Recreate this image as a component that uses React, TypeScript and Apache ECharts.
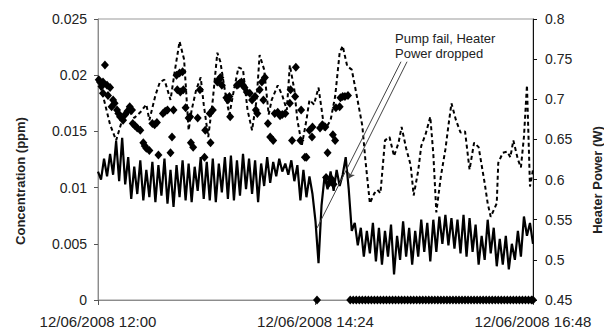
import React, { useEffect, useRef } from 'react';
import * as echarts from 'echarts';

// ---- Data (time in minutes after 12/06/2008 12:00) ----
const xTickMinutes = [0, 144, 288];
const xTickLabels = ['12/06/2008 12:00', '12/06/2008 14:24', '12/06/2008 16:48'];

// Heater power (W), sampled every 2 minutes
const heaterStepMin = 2;
const heaterPower = [
  0.610, 0.600, 0.626, 0.604, 0.632, 0.606, 0.648, 0.598, 0.652, 0.594,
  0.628, 0.576, 0.616, 0.582, 0.624, 0.574, 0.612, 0.578, 0.622, 0.572,
  0.618, 0.580, 0.626, 0.570, 0.612, 0.566, 0.618, 0.578, 0.624, 0.574,
  0.620, 0.572, 0.616, 0.586, 0.628, 0.576, 0.622, 0.574, 0.626, 0.572,
  0.620, 0.584, 0.628, 0.576, 0.630, 0.574, 0.624, 0.580, 0.632, 0.588,
  0.626, 0.582, 0.624, 0.572, 0.620, 0.592, 0.628, 0.596, 0.622, 0.604,
  0.626, 0.610, 0.620, 0.606, 0.624, 0.598, 0.618, 0.574, 0.612, 0.578,
  0.604, 0.582, 0.548, 0.496, 0.568, 0.604, 0.588, 0.610, 0.586, 0.612,
  0.592, 0.606, 0.628, 0.588, 0.536, 0.546, 0.518, 0.540, 0.504, 0.536,
  0.508, 0.546, 0.498, 0.540, 0.494, 0.536, 0.504, 0.544, 0.482, 0.530,
  0.500, 0.548, 0.504, 0.540, 0.494, 0.536, 0.504, 0.550, 0.510, 0.546,
  0.498, 0.550, 0.510, 0.554, 0.520, 0.556, 0.518, 0.552, 0.514, 0.550,
  0.508, 0.556, 0.504, 0.552, 0.510, 0.544, 0.494, 0.530, 0.500, 0.550,
  0.508, 0.540, 0.492, 0.526, 0.494, 0.530, 0.488, 0.520, 0.500, 0.536,
  0.504, 0.554, 0.530, 0.546, 0.520,
];

// Concentration (ppm), dashed trace
const dashedConc: [number, number][] = [
  [0, 0.0196], [4, 0.0178], [8, 0.0156], [12, 0.0142], [16, 0.016], [20, 0.0169],
  [24, 0.0162], [28, 0.0167], [32, 0.0174], [34, 0.016], [38, 0.0182], [41, 0.0194],
  [44, 0.0196], [48, 0.0178], [51, 0.0205], [54, 0.023], [57, 0.0214], [60, 0.0151],
  [62, 0.0169], [65, 0.0187], [68, 0.0198], [70, 0.0174], [73, 0.0145], [76, 0.0178],
  [79, 0.022], [81, 0.0212], [85, 0.0178], [87, 0.0165], [90, 0.0187], [93, 0.0207],
  [96, 0.0205], [99, 0.0169], [102, 0.0151], [105, 0.0178], [107, 0.0218], [110, 0.0205],
  [113, 0.0165], [115, 0.0178], [119, 0.0191], [122, 0.0182], [125, 0.0169], [127, 0.0209],
  [130, 0.0187], [132, 0.016], [135, 0.0138], [138, 0.016], [140, 0.0178], [143, 0.0174],
  [146, 0.0189], [150, 0.0151], [154, 0.016], [157, 0.0181], [160, 0.022], [162, 0.0226],
  [165, 0.0208], [168, 0.0205], [171, 0.0184], [175, 0.0155], [177, 0.0125], [180, 0.0086],
  [183, 0.0095], [185, 0.0098], [187, 0.0095], [190, 0.0142], [193, 0.0145], [196, 0.0128],
  [199, 0.014], [201, 0.0154], [204, 0.0135], [207, 0.012], [209, 0.0093], [212, 0.0115],
  [214, 0.0137], [217, 0.0148], [220, 0.0163], [222, 0.013], [224, 0.0078], [227, 0.011],
  [230, 0.0134], [232, 0.0155], [234, 0.0175], [237, 0.016], [240, 0.0149], [243, 0.015],
  [246, 0.0116], [249, 0.014], [252, 0.0136], [256, 0.0104], [258, 0.0086], [260, 0.0074],
  [264, 0.0086], [265, 0.0122], [268, 0.0131], [271, 0.0132], [273, 0.0127], [275, 0.0142],
  [278, 0.0125], [280, 0.0118], [282, 0.0145], [284, 0.0191], [286, 0.0101], [288, 0.0116],
];

// Concentration (ppm), diamond samples
const diamondConc: [number, number][] = [
  [0.5, 0.0196], [1.3, 0.0194], [2.3, 0.019], [3.3, 0.0194], [3.3, 0.0184], [4.6, 0.0209],
  [6, 0.0191], [6.6, 0.0182], [8, 0.0189], [9, 0.0172], [10, 0.0178], [11, 0.0175],
  [12.6, 0.0169], [13.5, 0.0166], [14.6, 0.0163], [16.6, 0.016], [18, 0.0165], [19.5, 0.0168],
  [21, 0.0172], [22.5, 0.0169], [23, 0.0157], [24.5, 0.0155], [26, 0.0153], [28, 0.0151],
  [30, 0.014], [31, 0.0137], [32, 0.0135], [34, 0.0133], [36, 0.0157], [37.5, 0.0156],
  [39, 0.0158], [40, 0.0129], [43, 0.0166], [44.5, 0.0168], [46, 0.0169], [48, 0.0131],
  [49, 0.0145], [50, 0.0169], [52, 0.02], [52.5, 0.0187], [54, 0.0202], [54.5, 0.0185],
  [56, 0.0203], [56.5, 0.0187], [58, 0.0171], [60, 0.0162], [61, 0.0163], [61.5, 0.014],
  [63, 0.0136], [66, 0.0162], [67.5, 0.0187], [70.5, 0.0127], [71, 0.0151], [74, 0.0166],
  [74.5, 0.014], [76, 0.0169], [79, 0.0194], [80, 0.0196], [81, 0.0198], [82, 0.0191],
  [85, 0.018], [86, 0.0178], [87, 0.0181], [87.5, 0.0163], [92, 0.0191], [93, 0.0192],
  [94, 0.0193], [95, 0.0194], [96, 0.0191], [97, 0.0189], [98.5, 0.0185], [100.5, 0.0184],
  [102, 0.0178], [104, 0.0181], [104.5, 0.0169], [105.5, 0.0166], [107, 0.0187], [108.5, 0.0194],
  [109.5, 0.0178], [110.5, 0.0198], [112.5, 0.0157], [114, 0.0145], [116, 0.0142], [117, 0.0166],
  [119, 0.0167], [120.5, 0.0164], [122, 0.0165], [124, 0.0166], [127, 0.0175], [127.5, 0.0187],
  [128.5, 0.0142], [130.5, 0.0181], [131, 0.0207], [134, 0.0142], [134.5, 0.0169], [137, 0.0127],
  [138, 0.0127], [140, 0.0151], [141.7, 0.0145], [142, 0.0154], [147, 0.0153], [148.5, 0.0156],
  [150.5, 0.0154], [151, 0.0109], [152, 0.0131], [153, 0.0104], [155, 0.0107], [155.5, 0.0147],
  [156, 0.0103], [157, 0.0142], [157.5, 0.0171], [160, 0.0172], [160.5, 0.018], [162, 0.0181],
  [163.5, 0.0181], [165.5, 0.0182],
];

// Times at which the diamond concentration reads 0 (pump failed)
const zeroTimes = [
  145, 167, 169, 171, 173, 175, 177, 179, 181, 183, 185, 187, 189, 191, 193, 195, 197, 199,
  201, 203, 205, 207, 209, 211, 213, 215, 217, 219, 221, 223, 225, 227, 229, 231, 233, 235,
  237, 239, 241, 243, 245, 247, 249, 251, 253, 255, 257, 259, 261, 263, 265, 267, 269, 271,
  273, 275, 277, 279, 281, 283, 285, 287, 288,
];

const annotationText = 'Pump fail, Heater\nPower dropped';
const leaderA: [number, number][] = [[200.6, 0.0212], [145, 0.0064]];
const leaderB: [number, number][] = [[204.6, 0.0212], [166, 0.0108]];

const FONT = '"Liberation Sans", Arial, sans-serif';

export default function App() {
  const ref = useRef<HTMLDivElement>(null);

  useEffect(() => {
    if (!ref.current) return;
    const chart = echarts.init(ref.current, null, { renderer: 'svg' });

    const heaterData = heaterPower.map((v, i) => [i * heaterStepMin, v]);
    const diamondData = [
      ...diamondConc,
      ...zeroTimes.map((t) => [t, 0]),
    ];

    chart.setOption({
      animation: false,
      backgroundColor: '#fff',
      grid: {
        left: 98,
        right: 71,
        top: 19,
        bottom: 32,
        show: true,
        borderColor: '#999',
        borderWidth: 1,
      },
      xAxis: {
        type: 'value',
        min: 0,
        max: 288,
        interval: 144,
        splitLine: { show: false },
        axisLine: { show: true, lineStyle: { color: '#8c8c8c', width: 1 } },
        axisTick: { show: true, length: 5, lineStyle: { color: '#555' } },
        axisLabel: {
          margin: 14,
          fontSize: 15,
          fontFamily: FONT,
          color: '#222',
          formatter: (v: number) => {
            const i = xTickMinutes.indexOf(Math.round(v));
            return i >= 0 ? xTickLabels[i] : '';
          },
        },
      },
      yAxis: [
        {
          type: 'value',
          position: 'left',
          min: 0,
          max: 0.025,
          interval: 0.005,
          splitLine: { show: false },
          axisLine: { show: true, lineStyle: { color: '#8c8c8c', width: 1 } },
          axisTick: { show: true, length: 4, lineStyle: { color: '#555' } },
          axisLabel: {
            margin: 11,
            fontSize: 14,
            fontFamily: FONT,
            color: '#222',
            formatter: (v: number) => String(+v.toFixed(3)),
          },
        },
        {
          type: 'value',
          position: 'right',
          min: 0.45,
          max: 0.8,
          interval: 0.05,
          splitLine: { show: false },
          axisLine: { show: true, lineStyle: { color: '#111', width: 1 } },
          axisTick: { show: true, length: 4, lineStyle: { color: '#111' } },
          axisLabel: {
            margin: 12,
            fontSize: 14,
            fontFamily: FONT,
            color: '#222',
            formatter: (v: number) => String(+v.toFixed(2)),
          },
        },
      ],
      series: [
        {
          name: 'Heater Power',
          type: 'line',
          yAxisIndex: 1,
          data: heaterData,
          showSymbol: false,
          symbol: 'none',
          lineStyle: { color: '#000', width: 2.2 },
          z: 2,
        },
        {
          name: 'Concentration (dashed)',
          type: 'line',
          yAxisIndex: 0,
          data: dashedConc,
          showSymbol: false,
          symbol: 'none',
          lineStyle: { color: '#000', width: 2, type: [4, 3] },
          z: 3,
          markLine: {
            silent: true,
            symbol: ['none', 'none'],
            label: { show: false },
            lineStyle: { color: '#444', width: 1, type: 'solid' },
            data: [
              [
                { coord: leaderA[0], symbol: 'none' },
                { coord: leaderA[1], symbol: 'none' },
              ],
              [
                { coord: leaderB[0], symbol: 'none' },
                { coord: leaderB[1], symbol: 'arrow', symbolSize: 6 },
              ],
            ],
          },
        },
        {
          name: 'Concentration',
          type: 'scatter',
          yAxisIndex: 0,
          data: diamondData,
          symbol: 'diamond',
          symbolSize: [8, 9],
          itemStyle: { color: '#000', opacity: 1 },
          z: 4,
        },
      ],
      graphic: [
        {
          type: 'text',
          left: 395,
          top: 31,
          style: {
            text: annotationText,
            font: `13px ${FONT}`,
            fill: '#222',
            lineHeight: 15,
          },
        },
        {
          type: 'text',
          x: 20,
          y: 181,
          rotation: Math.PI / 2,
          style: {
            text: 'Concentration (ppm)',
            font: `bold 13px ${FONT}`,
            fill: '#222',
            align: 'center',
            verticalAlign: 'middle',
          },
        },
        {
          type: 'text',
          x: 597,
          y: 180,
          rotation: Math.PI / 2,
          style: {
            text: 'Heater Power (W)',
            font: `bold 13px ${FONT}`,
            fill: '#222',
            align: 'center',
            verticalAlign: 'middle',
          },
        },
      ],
    });

    return () => chart.dispose();
  }, []);

  return (
    <div
      ref={ref}
      style={{ position: 'fixed', left: 0, top: 0, width: 604, height: 332, background: '#fff' }}
    />
  );
}
